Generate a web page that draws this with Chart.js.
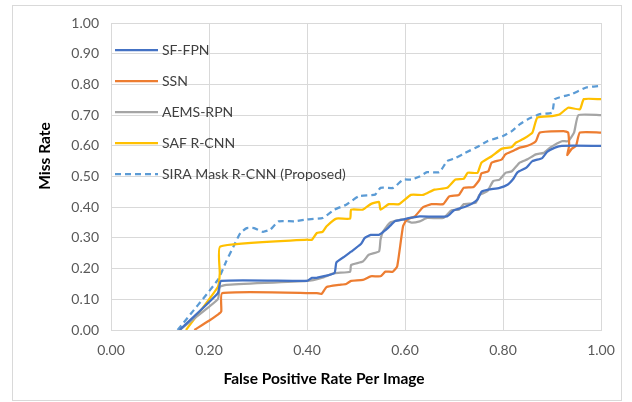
<!DOCTYPE html>
<html>
<head>
<meta charset="utf-8">
<script src="https://cdn.jsdelivr.net/npm/chart.js@4.4.1/dist/chart.umd.min.js"></script>
<style>
  html, body { margin: 0; padding: 0; background: #fff; }
  #wrap { position: relative; width: 632px; height: 402px; }
  #frame { position: absolute; left: 12px; top: 5px; width: 610px; height: 396px; border: 1px solid #d9d9d9; box-sizing: border-box; pointer-events: none; }
</style>
</head>
<body>
<div id="wrap">
  <canvas id="c" width="632" height="402"></canvas>
  <div id="frame"></div>
</div>
<script>
const seriesNames = ["SF-FPN", "SSN", "AEMS-RPN", "SAF R-CNN", "SIRA Mask R-CNN (Proposed)"];
const xTickValues = [0, 0.2, 0.4, 0.6, 0.8, 1.0];
const xTitle = "False Positive Rate Per Image";
const yTitle = "Miss Rate";

const sfX = [0.14,0.218,0.225,0.40,0.41,0.42,0.456,0.46,0.477,0.49,0.51,0.518,0.53,0.547,0.56,0.57,0.58,0.596,0.61,0.63,0.686,0.70,0.72,0.735,0.748,0.756,0.77,0.793,0.81,0.82,0.83,0.847,0.86,0.88,0.89,0.906,0.92,1.0];
const sfY = [0,0.12,0.16,0.16,0.17,0.17,0.185,0.22,0.24,0.255,0.28,0.30,0.31,0.31,0.325,0.34,0.355,0.36,0.365,0.37,0.37,0.39,0.40,0.41,0.425,0.45,0.457,0.463,0.474,0.49,0.514,0.528,0.55,0.56,0.58,0.594,0.60,0.60];

const ssnX = [0.17,0.20,0.218,0.225,0.227,0.42,0.43,0.44,0.465,0.48,0.49,0.514,0.53,0.55,0.56,0.575,0.584,0.596,0.604,0.62,0.637,0.654,0.678,0.69,0.71,0.72,0.74,0.752,0.756,0.77,0.777,0.797,0.805,0.82,0.834,0.85,0.867,0.875,0.924,0.933,0.935,0.931,0.94,0.949,0.957,1.0];
const ssnY = [0,0.03,0.05,0.06,0.12,0.12,0.118,0.14,0.147,0.15,0.16,0.163,0.175,0.175,0.19,0.19,0.207,0.338,0.36,0.37,0.40,0.41,0.41,0.435,0.44,0.463,0.466,0.49,0.51,0.517,0.545,0.555,0.572,0.583,0.594,0.60,0.615,0.643,0.648,0.643,0.60,0.57,0.59,0.60,0.643,0.643];

const aemsX = [0.14,0.218,0.222,0.235,0.40,0.43,0.456,0.488,0.49,0.514,0.526,0.547,0.55,0.555,0.57,0.596,0.613,0.63,0.645,0.678,0.695,0.71,0.72,0.744,0.752,0.768,0.78,0.793,0.805,0.818,0.834,0.85,0.867,0.883,0.896,0.92,0.933,0.945,0.954,1.0];
const aemsY = [0,0.10,0.14,0.147,0.16,0.17,0.185,0.19,0.212,0.223,0.245,0.256,0.294,0.32,0.35,0.36,0.35,0.354,0.365,0.365,0.39,0.392,0.41,0.414,0.44,0.452,0.485,0.49,0.512,0.517,0.545,0.556,0.572,0.577,0.594,0.615,0.615,0.643,0.70,0.70];

const safX = [0.153,0.218,0.222,0.223,0.40,0.41,0.42,0.432,0.44,0.46,0.488,0.49,0.514,0.53,0.547,0.55,0.567,0.588,0.612,0.637,0.66,0.686,0.703,0.72,0.728,0.748,0.756,0.777,0.797,0.818,0.826,0.842,0.86,0.87,0.90,0.916,0.933,0.957,0.965,1.0];
const safY = [0,0.14,0.185,0.272,0.294,0.294,0.316,0.32,0.338,0.363,0.363,0.392,0.392,0.41,0.417,0.392,0.41,0.41,0.44,0.44,0.457,0.463,0.49,0.493,0.512,0.512,0.545,0.566,0.59,0.596,0.61,0.623,0.643,0.692,0.697,0.703,0.724,0.719,0.752,0.752];

const siraX = [0.136,0.218,0.235,0.25,0.264,0.277,0.292,0.31,0.325,0.342,0.374,0.40,0.432,0.456,0.48,0.506,0.539,0.55,0.576,0.596,0.613,0.63,0.645,0.67,0.686,0.703,0.723,0.752,0.768,0.80,0.818,0.834,0.85,0.875,0.90,0.906,0.94,0.97,1.0];
const siraY = [0,0.163,0.223,0.272,0.316,0.332,0.332,0.32,0.327,0.354,0.354,0.36,0.365,0.392,0.408,0.436,0.441,0.463,0.463,0.49,0.49,0.50,0.514,0.514,0.55,0.56,0.577,0.60,0.615,0.632,0.648,0.67,0.686,0.703,0.708,0.752,0.768,0.79,0.795];

function pts(xs, ys) { return xs.map((x, i) => ({ x: x, y: ys[i] })); }

const colors = ["#4472C4", "#ED7D31", "#A5A5A5", "#FFC000", "#5B9BD5"];
const allX = [sfX, ssnX, aemsX, safX, siraX];
const allY = [sfY, ssnY, aemsY, safY, siraY];

const FONT = 'Lato, "Open Sans", sans-serif';

const datasets = seriesNames.map((n, i) => ({
  label: n,
  data: pts(allX[i], allY[i]),
  borderColor: colors[i],
  backgroundColor: colors[i],
  borderWidth: 2.25,
  borderDash: i === 4 ? [6, 4] : [],
  pointRadius: 0,
  tension: 0.15,
  fill: false
}));

const decorPlugin = {
  id: 'decor',
  afterDatasetsDraw(chart) {
    const ctx = chart.ctx;
    ctx.save();
    // legend inside plot
    ctx.font = '14px ' + FONT;
    ctx.fillStyle = '#404040';
    ctx.textBaseline = 'middle';
    ctx.textAlign = 'left';
    chart.data.datasets.forEach((ds, i) => {
      const y = 50 + i * 31;
      ctx.strokeStyle = ds.borderColor;
      ctx.lineWidth = 2.25;
      ctx.setLineDash(ds.borderDash || []);
      ctx.beginPath();
      ctx.moveTo(115, y);
      ctx.lineTo(158, y);
      ctx.stroke();
      ctx.setLineDash([]);
      ctx.fillText(ds.label, 162, y);
    });
    // axis titles
    ctx.fillStyle = '#000';
    ctx.font = 'bold 15.5px ' + FONT;
    ctx.textAlign = 'center';
    ctx.fillText(xTitle, 324, 379);
    ctx.translate(45, 156);
    ctx.rotate(-Math.PI / 2);
    ctx.fillText(yTitle, 0, 0);
    ctx.restore();
  }
};

new Chart(document.getElementById('c'), {
  type: 'line',
  data: { datasets: datasets },
  options: {
    responsive: false,
    animation: false,
    layout: { padding: { left: 0, right: 31, top: 23, bottom: 0 } },
    plugins: { legend: { display: false }, tooltip: { enabled: false } },
    scales: {
      x: {
        type: 'linear', min: 0, max: 1,
        afterBuildTicks: (s) => { s.ticks = xTickValues.map(v => ({ value: v })); },
        afterFit: (s) => { s.height = 72; },
        ticks: { color: '#595959', font: { size: 14, family: FONT }, padding: 12, callback: v => v.toFixed(2), maxRotation: 0 },
        grid: { color: '#d9d9d9', lineWidth: 1, drawTicks: false },
        border: { color: '#d9d9d9' }
      },
      y: {
        type: 'linear', min: 0, max: 1,
        afterFit: (s) => { s.width = 111; },
        ticks: { stepSize: 0.1, color: '#595959', font: { size: 14, family: FONT }, padding: 12, callback: v => v.toFixed(2) },
        grid: { color: '#d9d9d9', lineWidth: 1, drawTicks: false },
        border: { color: '#d9d9d9' }
      }
    }
  },
  plugins: [decorPlugin]
});
</script>
</body>
</html>
